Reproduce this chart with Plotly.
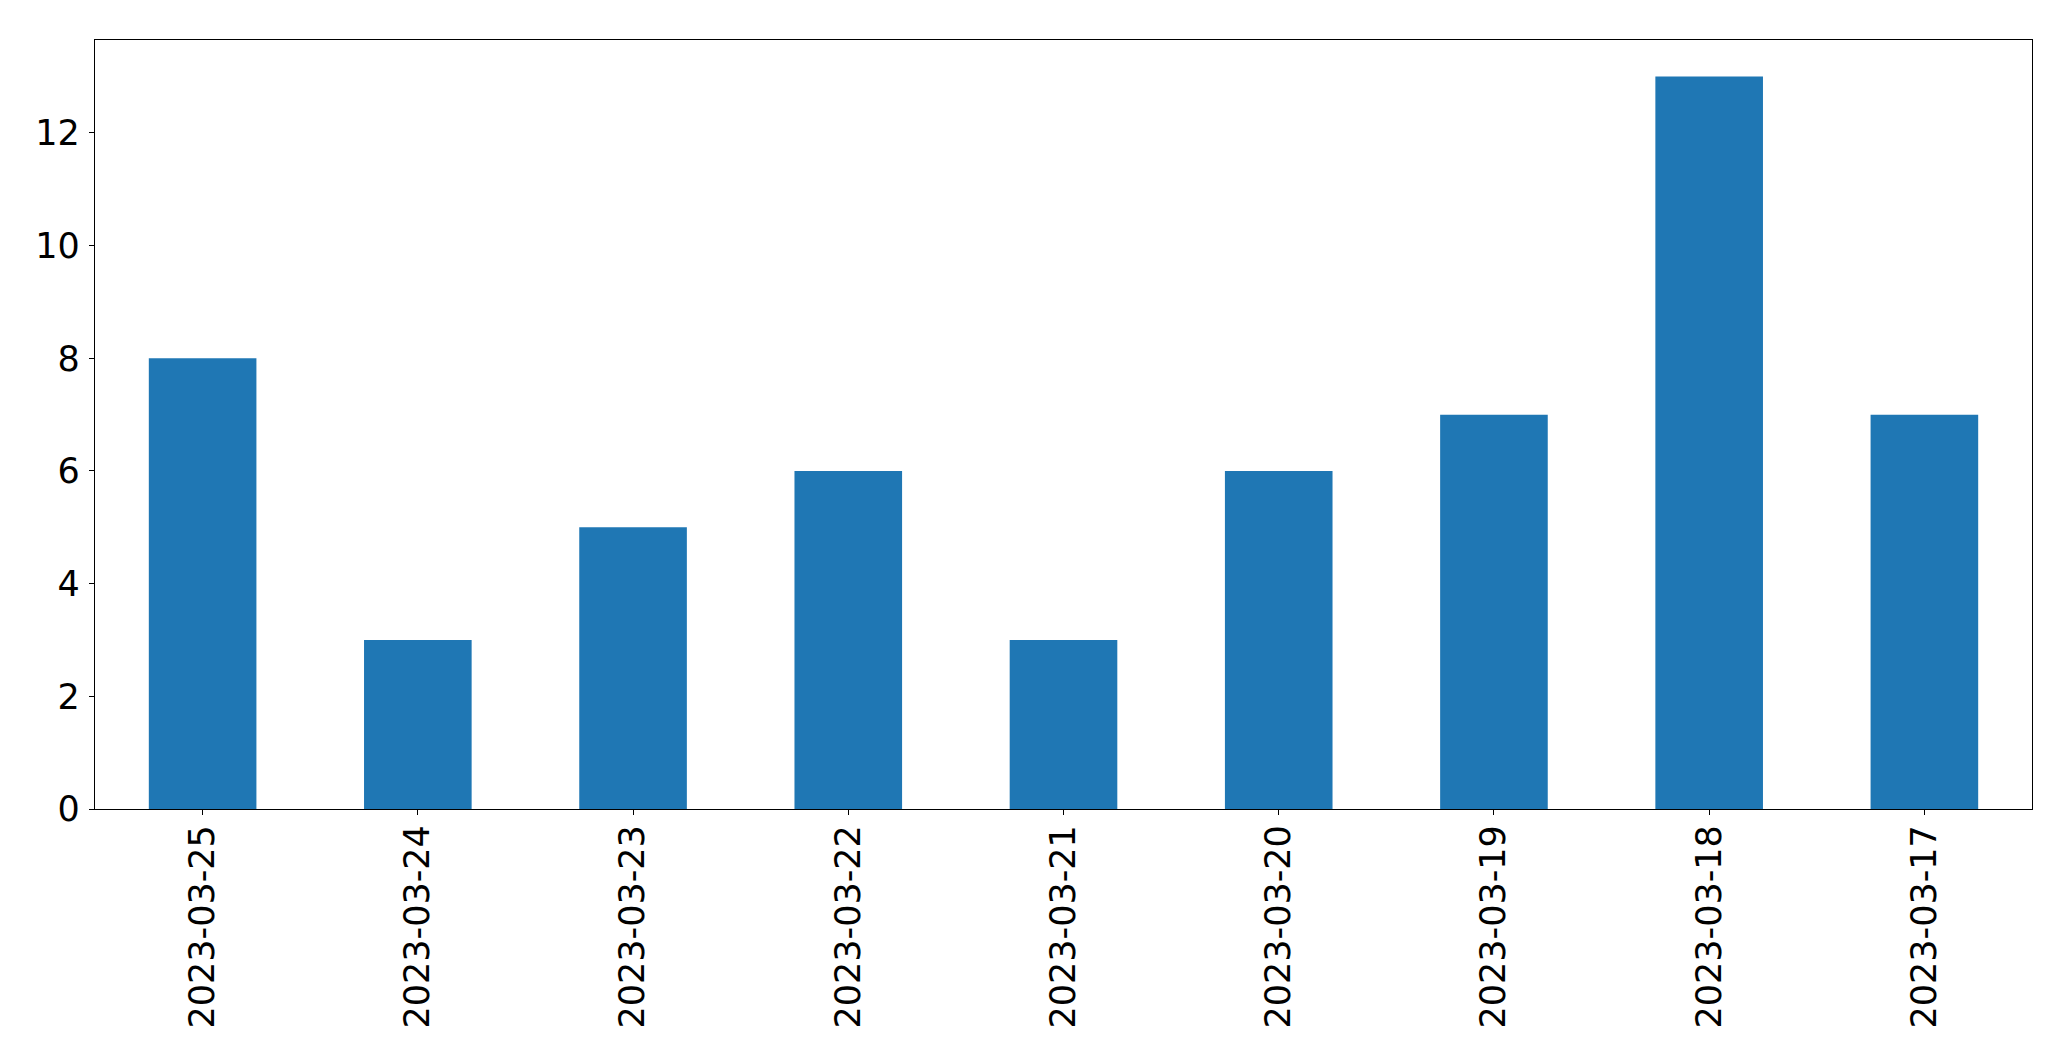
import plotly.graph_objects as go

dates = ["2023-03-25", "2023-03-24", "2023-03-23", "2023-03-22", "2023-03-21",
         "2023-03-20", "2023-03-19", "2023-03-18", "2023-03-17"]
counts = [8, 3, 5, 6, 3, 6, 7, 13, 7]
y_ticks = [0, 2, 4, 6, 8, 10, 12]

fig = go.Figure(go.Bar(x=dates, y=counts, width=0.5, marker=dict(color="#1f77b4", line=dict(width=0))))

font = dict(family="DejaVu Sans", size=35, color="black")
fig.update_layout(
    width=2071, height=1061, autosize=False,
    paper_bgcolor="white", plot_bgcolor="white",
    margin=dict(l=94.5, r=39, t=39.5, b=252, pad=0),
    font=font, showlegend=False,
)
fig.update_xaxes(type="category", range=[-0.5, 8.5], tickangle=-90,
                 showline=True, linecolor="black", linewidth=1.3, mirror=True,
                 ticks="outside", ticklen=5, tickwidth=1.3, tickcolor="black",
                 showgrid=False, zeroline=False, tickfont=font, ticklabelstandoff=-4)
fig.update_yaxes(range=[0, 13.65], tickvals=y_ticks, ticktext=[str(v) for v in y_ticks],
                 showline=True, linecolor="black", linewidth=1.3, mirror=True,
                 ticks="outside", ticklen=5, tickwidth=1.3, tickcolor="black",
                 showgrid=False, zeroline=False, tickfont=font, ticklabelstandoff=2)

fig.write_html("out.html", config={"displayModeBar": False})

with open("out.html", "r", encoding="utf-8") as f:
    html = f.read()
html = html.replace("<head>", "<head><style>html,body{margin:0;padding:0;overflow:hidden;}</style>", 1)
with open("out.html", "w", encoding="utf-8") as f:
    f.write(html)
